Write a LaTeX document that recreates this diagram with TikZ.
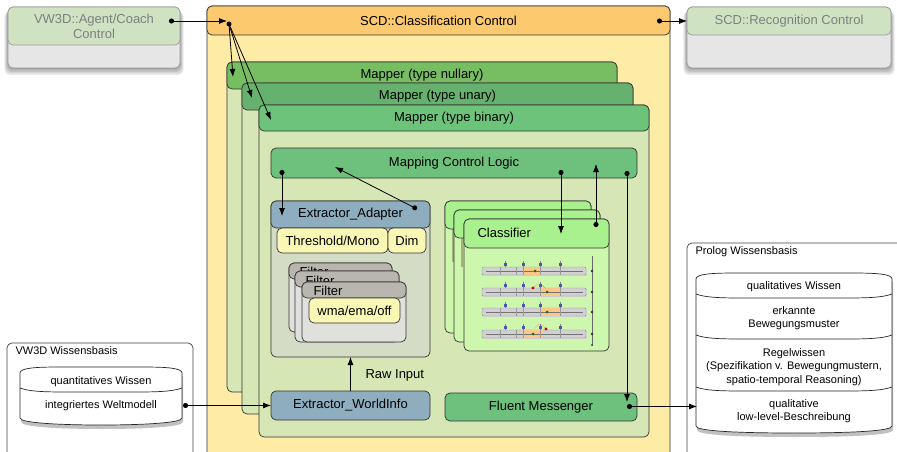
\documentclass[tikz,border=0pt]{standalone}
\usepackage{fontspec}
\setmainfont{Liberation Sans}
\usetikzlibrary{arrows.meta,shadows,calc}

\definecolor{ccHead}{HTML}{FCC96F}
\definecolor{ccBody}{HTML}{FDEBA6}
\definecolor{mapNull}{HTML}{77BD62}
\definecolor{mapUn}{HTML}{66B16D}
\definecolor{mapBin}{HTML}{6EC37B}
\definecolor{mapBody}{HTML}{D6E7B5}
\definecolor{logic}{HTML}{6EC07D}
\definecolor{adHead}{HTML}{8EADBF}
\definecolor{adBody}{HTML}{D4DCC6}
\definecolor{pale}{HTML}{F8F8B4}
\definecolor{filHead}{HTML}{B9B6AF}
\definecolor{filBody}{HTML}{E0E0DC}
\definecolor{clHead}{HTML}{A9F18E}
\definecolor{clBody}{HTML}{CEF7AE}
\definecolor{clEdge}{HTML}{A7B27A}
\definecolor{extHead}{HTML}{CFE2C2}
\definecolor{extBody}{HTML}{E6E6E6}
\definecolor{extText}{HTML}{7F7F7F}
\definecolor{extLine}{HTML}{9A9A9A}

\tikzset{
  cbox/.style={draw=black!80, line width=0.7pt, rounded corners=5pt, inner sep=0pt,
               outer sep=0pt, anchor=north west, font=\fontsize{13}{15}\selectfont},
  ttext/.style={font=\fontsize{13}{15}\selectfont},
  stext/.style={font=\fontsize{11}{13.6}\selectfont, align=center},
  conn/.style={draw=black, line width=0.8pt, -{Latex[length=8pt,width=6pt]}},
  dotconn/.style={draw=black, line width=0.8pt, {Circle[length=5pt]}-{Latex[length=8pt,width=6pt]}},
  dshadow/.style={drop shadow={shadow xshift=1pt, shadow yshift=-4pt, opacity=0.35, fill=black!70}},
  extbox/.style={cbox, draw=extLine, text=extText},
}

% box with its north-west corner at (x,y): name, x, y, width, height, style, text
\newcommand\mkbox[7]{\node[cbox,minimum width=#4pt,minimum height=#5pt,#6] (#1) at (#2,#3) {#7};}

% soft layered shadow under a box: x, y, width, height
\newcommand\boxshadow[4]{%
  \foreach \s in {0,1.5,3,4.5,6} {
    \fill[black, opacity=0.085, rounded corners=6pt]
      ({#1-\s*0.6},{#2+4}) rectangle ({#1+#3+\s*0.6},{#2+#4+1+\s});
  }}

% cylinder outline: x1, x2, top, bottom
\newcommand\drawcyl[4]{%
  \path[draw=black!85, line width=0.7pt, fill=white, dshadow]
    (#1,{#3+6}) .. controls (#1,{#3+1}) and ({#1+15},#3) .. ({#1+40},#3)
    -- ({#2-40},#3) .. controls ({#2-15},#3) and (#2,{#3+1}) .. (#2,{#3+6})
    -- (#2,{#4-7}) .. controls (#2,{#4-2}) and ({#2-40},#4) .. ({(#1+#2)/2},#4)
    .. controls ({#1+40},#4) and (#1,{#4-2}) .. (#1,{#4-7}) -- cycle;}
% section line inside a cylinder: x1, x2, y
\newcommand\cyldiv[3]{%
  \draw[line width=0.7pt, black!85] (#1,{#3-4}) .. controls ({#1+10},#3) and ({#1+30},#3) .. ({#1+50},#3)
    -- ({#2-50},#3) .. controls ({#2-30},#3) and ({#2-10},#3) .. (#2,{#3-4});}

\begin{document}
\begin{tikzpicture}[x=1pt, y=-1pt, line join=round]
\useasboundingbox (0,0) rectangle (897,452);
\clip (0,0) rectangle (897,452);

% ---------- outer controllers ----------
\boxshadow{8}{7}{172}{61}
\mkbox{agbody}{8}{7}{172}{61}{extbox, fill=extBody}{}
\mkbox{ag}{8}{7}{172}{38}{extbox, fill=extHead, align=center}{VW3D::Agent/Coach\\Control}
\boxshadow{687}{7}{204}{61}
\mkbox{rcbody}{687}{7}{204}{61}{extbox, fill=extBody}{}
\mkbox{rc}{687}{7}{204}{28}{extbox, fill=extHead}{SCD::Recognition Control}

% ---------- classification control ----------
\mkbox{ccbody}{207}{6}{463}{470}{fill=ccBody}{}
\mkbox{cc}{207}{6}{463}{29}{fill=ccHead}{SCD::Classification Control}

% mappers
\mkbox{mnbody}{227}{62}{390}{330}{fill=mapBody}{}
\mkbox{mn}{227}{62}{390}{27}{fill=mapNull}{Mapper (type nullary)}
\mkbox{mubody}{242}{83}{391}{331}{fill=mapBody}{}
\mkbox{mu}{242}{83}{391}{27}{fill=mapUn}{Mapper (type unary)}
\mkbox{mbbody}{259}{105}{390}{332}{fill=mapBody}{}
\mkbox{mb}{259}{105}{390}{26}{fill=mapBin}{Mapper (type binary)}

\mkbox{mcl}{271}{148}{366}{30}{fill=logic}{Mapping Control Logic}

% extractor adapter
\mkbox{adbody}{271}{201}{159}{156}{fill=adBody}{}
\mkbox{ad}{271}{201}{159}{27}{fill=adHead}{Extractor\_Adapter}
\mkbox{thr}{277}{228}{111}{25}{fill=pale}{Threshold/Mono}
\mkbox{dim}{388}{228}{38}{25}{fill=pale}{Dim}

% filters
\mkbox{fa}{289}{263}{103}{69}{fill=filBody}{}
\mkbox{fah}{289}{263}{103}{16}{fill=filHead}{}
\node[ttext, anchor=west] (fat) at (296,272) {Filter};
\mkbox{fb}{295}{271}{104}{71}{fill=filBody}{}
\mkbox{fbh}{295}{271}{104}{16}{fill=filHead}{}
\node[ttext, anchor=west] (fbt) at (302,281) {Filter};
\mkbox{fc}{302}{282}{104}{60}{fill=filBody}{}
\mkbox{fch}{302}{282}{104}{16}{fill=filHead}{}
\node[ttext, anchor=west] (fct) at (310,290.5) {Filter};
\mkbox{wma}{309}{298}{91}{25}{fill=pale}{wma/ema/off}

% classifiers
\mkbox{ca}{445}{201}{146}{132}{fill=clBody}{}
\fill[clEdge] (451.5,229) rectangle (454,262);
\mkbox{cah}{445}{201}{146}{28}{fill=clHead}{}
\mkbox{cb}{454}{210}{146}{132}{fill=clBody}{}
\fill[clEdge] (460.5,238) rectangle (463,267);
\mkbox{cbh}{454}{210}{146}{28}{fill=clHead}{}
\mkbox{cl}{464}{219}{145}{132}{fill=clBody}{}
\mkbox{clh}{464}{219}{145}{29}{fill=clHead}{}
\node[ttext, anchor=west] (clt) at (474,233) {Classifier};

% classifier state sketch
\draw[black!60, line width=0.5pt] (592,256) -- (592,346);
\fill[black!70] (592,345) circle (1.1);
\foreach \yy/\oa/\ob/\gd in {271/523/540/535, 292/540/560/547, 312/540/560/547, 334/523/543/533} {
  \fill[black!15] (483,{\yy-3}) rectangle (587,{\yy+5});
  \draw[black!45, fill=black!18, line width=0.4pt, rounded corners=1pt] (482,{\yy-4}) rectangle (586,{\yy+4});
  \fill[orange!45] (\oa,{\yy-4}) rectangle (\ob,{\yy+4});
  \draw[black!55, line width=0.3pt] (486,\yy) -- (583,\yy);
  \foreach \xx in {500,516,523,540,560} \draw[black!40, line width=0.3pt] (\xx,{\yy-4}) -- (\xx,{\yy+4});
  \foreach \xx in {505,523,540,560} {
    \draw[black!50, line width=0.3pt] (\xx,{\yy-10}) -- (\xx,{\yy-4});
    \fill[blue!35!gray] ({\xx-1.5},{\yy-8}) rectangle ({\xx+1.5},{\yy-5});
  }
  \fill[green!50!black] (\gd,\yy) circle (1.5);
  \fill[black!80] (592,\yy) circle (1.3);
}
\draw[red!70, densely dotted, line width=0.5pt] (533,288) .. controls (536,283) and (543,283) .. (546,290);
\fill[red!80!black] (533,288) circle (1.6);
\draw[red!70, densely dotted, line width=0.5pt] (535,328) .. controls (538,323) and (543,323) .. (546,329);
\fill[red!80!black] (546,329) circle (1.6);

% bottom row
\mkbox{ewi}{271}{391}{159}{29}{fill=adHead}{Extractor\_WorldInfo}
\mkbox{fm}{445}{393}{192}{28}{fill=logic}{Fluent Messenger}

% ---------- knowledge bases ----------
\node[cbox, draw=black!75, minimum width=186pt, minimum height=130pt] (vwkb) at (7,343) {};
\node[stext, anchor=west] (vwkbt) at (12,351) {VW3D Wissensbasis};
\drawcyl{20}{182}{367}{425}
\cyldiv{20}{182}{392}
\node[stext] (vwq) at (101,382) {quantitatives Wissen};
\node[stext] (vwi) at (101,406) {integriertes Weltmodell};
\coordinate (vwOut) at (183,405.5);

\node[cbox, draw=black!75, minimum width=230pt, minimum height=230pt] (plkb) at (687,243) {};
\node[stext, anchor=west] (plkbt) at (692,252) {Prolog Wissensbasis};
\drawcyl{696}{892}{273}{433}
\cyldiv{696}{892}{298}
\cyldiv{696}{892}{339}
\cyldiv{696}{892}{391}
\node[stext] (plq) at (794,287) {qualitatives Wissen};
\node[stext] (ple) at (794,318) {erkannte\\Bewegungsmuster};
\node[stext] (plr) at (794,367) {Regelwissen\\(Spezifikation v. Bewegungmustern,\\spatio-temporal Reasoning)};
\node[stext] (pll) at (794,411) {qualitative\\low-level-Beschreibung};
\coordinate (plIn) at (697,406.5);

% ---------- connectors ----------
\coordinate (agOut) at (169,21);
\coordinate (ccIn) at (227,21);
\coordinate (ccHub) at (229,24);
\coordinate (ccOut) at (657,21);
\draw[dotconn] (agOut) -- (ccIn);
\fill (ccHub) circle (2.5);
\draw[conn] (ccHub) -- (233,77);
\draw[conn] (ccHub) -- (252,98);
\draw[conn] (ccHub) -- (271,120);
\draw[dotconn] (ccOut) -- (rc.west);

\draw[dotconn] (282,170) -- (282,216);
\draw[dotconn] (417,209) -- (335,167);
\draw[dotconn] (561,170) -- (561,234);
\draw[dotconn] (596,227) -- (596,164);
\draw[dotconn] (627,171) -- (627,402);
\draw[dotconn] (627,406.5) -- (plIn);

\draw[conn] (ewi.north) -- (adbody.south);
\node[ttext, anchor=west] (raw) at (362,375) {Raw Input};
\draw[dotconn] (vwOut) -- (ewi.west);
\end{tikzpicture}
\end{document}
